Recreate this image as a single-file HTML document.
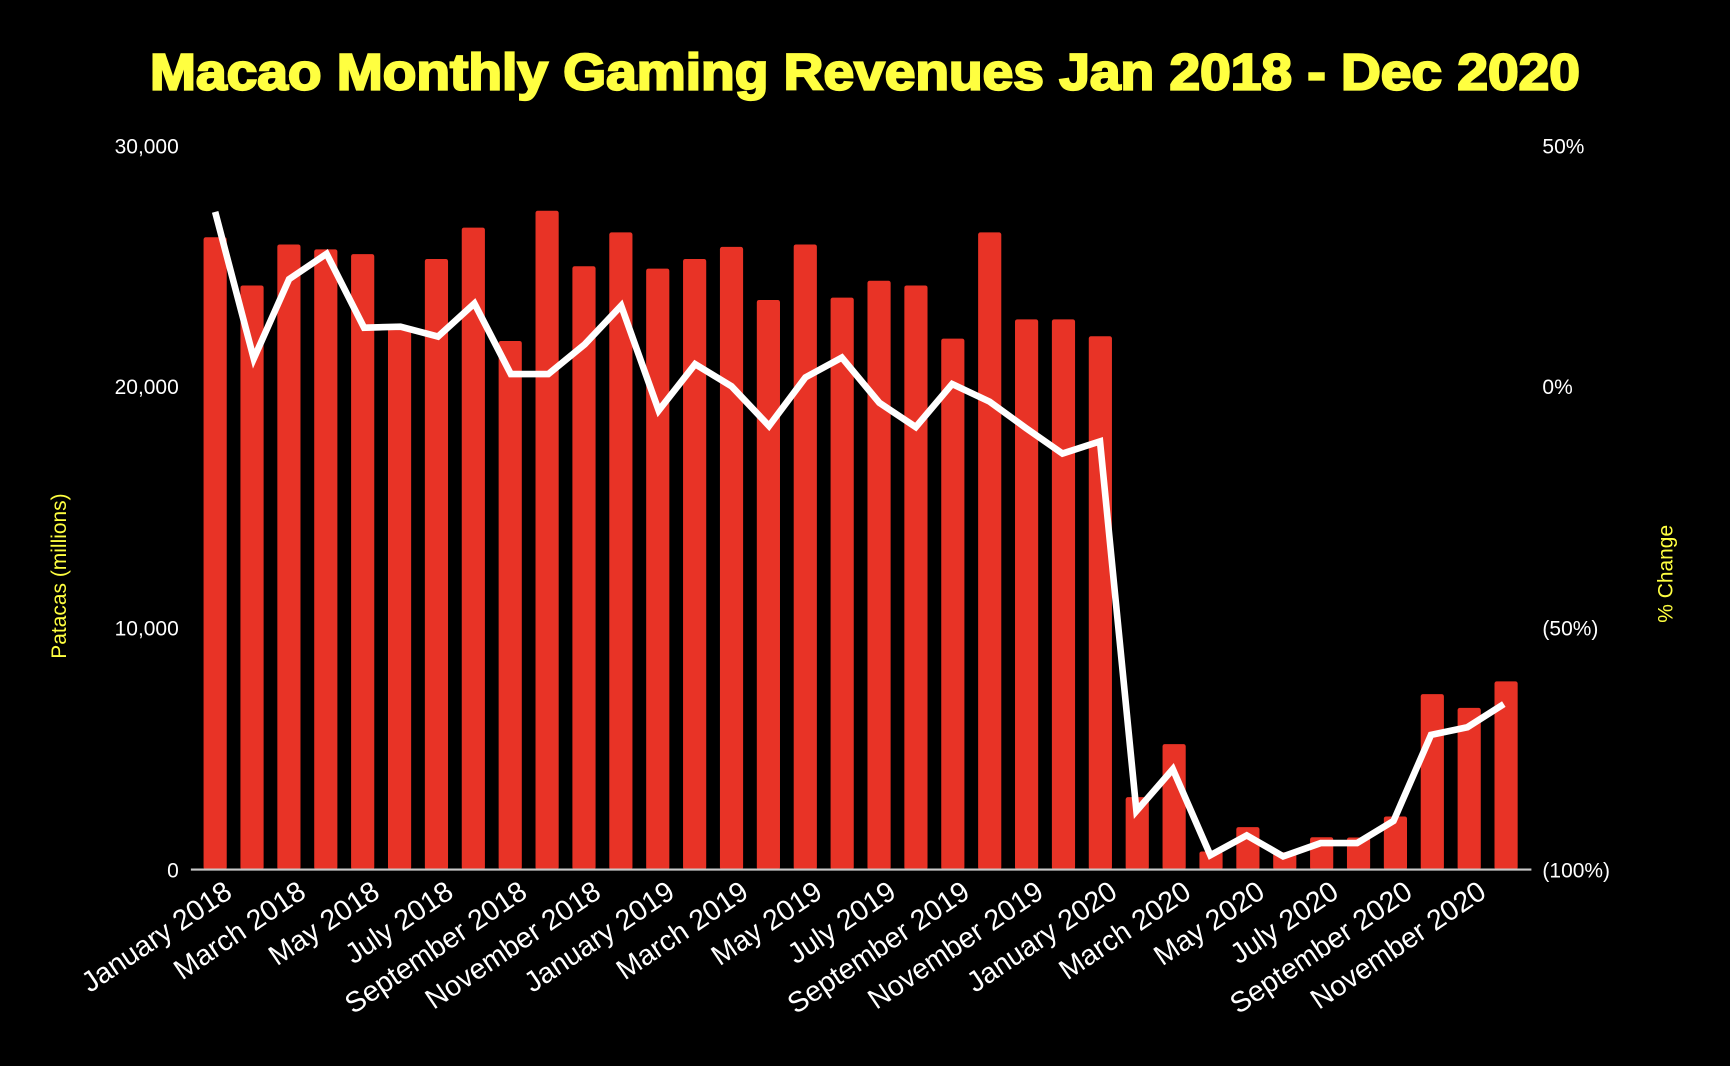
<!DOCTYPE html>
<html><head><meta charset="utf-8"><style>html,body{margin:0;padding:0;background:#000;}svg{display:block}</style></head>
<body>
<svg width="1730" height="1066" viewBox="0 0 1568 966" preserveAspectRatio="none" xmlns="http://www.w3.org/2000/svg" font-family="Liberation Sans, sans-serif">
<rect width="1568" height="966" fill="#000"/>
<text x="784" y="81" text-anchor="middle" font-size="46" font-weight="bold" fill="#ffff40" stroke="#ffff40" stroke-width="2" textLength="1296" lengthAdjust="spacingAndGlyphs">Macao Monthly Gaming Revenues Jan 2018 - Dec 2020</text>
<g fill="#fff" font-size="19" text-anchor="end">
<text x="162" y="139">30,000</text><text x="162" y="357">20,000</text><text x="162" y="576">10,000</text><text x="162" y="795">0</text>
</g>
<g fill="#fff" font-size="19" text-anchor="start">
<text x="1398" y="139">50%</text><text x="1398" y="357">0%</text><text x="1398" y="576">(50%)</text><text x="1398" y="795">(100%)</text>
</g>
<text transform="translate(60,522) rotate(-90)" fill="#ffff40" font-size="19" text-anchor="middle">Patacas (millions)</text>
<text transform="translate(1516,520) rotate(-90)" fill="#ffff40" font-size="19" text-anchor="middle">% Change</text>
<g id="bars" fill="#e83326"></g>
<line x1="173" y1="788" x2="1388" y2="788" stroke="#c8c8c8" stroke-width="2"/>
<polyline fill="none" stroke="#fff" stroke-width="6" stroke-linejoin="miter" points="195,192 230,325 262,253 296,230 330,297 363,296 397,305 430,275 463,339 497,339 530,312 563,277 597,372 630,330 663,350 697,386 730,342 763,324 797,365 830,387 863,348 897,364 930,388 963,411 997,400 1030,735 1063,697 1097,775 1130,757 1163,776 1197,764 1230,764 1263,744 1297,666 1330,659 1363,638"/>
<g id="labels" fill="#fff" font-size="26" text-anchor="end"></g>
<script>
var v=[26.2,24.2,25.9,25.7,25.5,22.5,25.3,26.6,21.9,27.3,25.0,26.4,24.9,25.3,25.8,23.6,25.9,23.7,24.4,24.2,22.0,26.4,22.8,22.8,22.1,3.0,5.2,0.75,1.76,0.72,1.34,1.33,2.2,7.27,6.7,7.8];
var g=document.getElementById('bars'),ns='http://www.w3.org/2000/svg';
for(var i=0;i<36;i++){var c=195+i*33.43,h=v[i]*21.87;var r=document.createElementNS(ns,'rect');r.setAttribute('x',c-10.5);r.setAttribute('y',788-h);r.setAttribute('width',21);r.setAttribute('height',h);r.setAttribute('rx',2);g.appendChild(r);}
var L=['January 2018','March 2018','May 2018','July 2018','September 2018','November 2018','January 2019','March 2019','May 2019','July 2019','September 2019','November 2019','January 2020','March 2020','May 2020','July 2020','September 2020','November 2020'];
var lg=document.getElementById('labels');
for(var j=0;j<18;j++){var c=195+2*j*33.43+17;var t=document.createElementNS(ns,'text');t.setAttribute('transform','translate('+c+',812) rotate(-34)');t.textContent=L[j];lg.appendChild(t);}
</script>
</svg>
</body></html>
